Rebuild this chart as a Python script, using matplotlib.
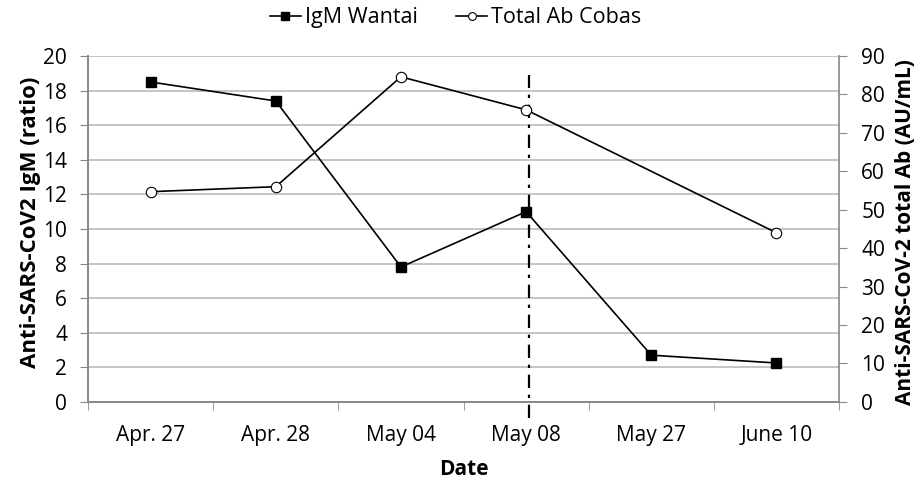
import numpy as np
import matplotlib.pyplot as plt

# datos
dates = ['Apr. 27', 'Apr. 28', 'May 04', 'May 08', 'May 27', 'June 10']
igm_wantai = [18.5, 17.4, 7.8, 11.0, 2.7, 2.25]
total_ab = [54.7, 56.0, 84.6, 76.0, np.nan, 44.0]
cutoff_day = 3.02
cutoff_range = (-0.93, 18.9)

plt.rcParams['font.family'] = ['Open Sans', 'DejaVu Sans']
grey = '#888888'

fig = plt.figure(figsize=(9.17, 4.79), dpi=100, facecolor='white')
ax = fig.add_axes([0.096, 0.161, 0.819, 0.722])
ax2 = ax.twinx()

x = np.arange(len(dates))
ax.plot(x, igm_wantai, color='black', lw=1.2, marker='s', ms=7.5,
        mfc='black', mec='black', label='IgM Wantai', zorder=3)
ab = np.array(total_ab)
ok = ~np.isnan(ab)
ax2.plot(x[ok], ab[ok], color='black', lw=1.2, marker='o', ms=7.5,
         mfc='white', mec='black', mew=0.8, label='Total Ab Cobas', zorder=3)

ax.vlines(cutoff_day, *cutoff_range, colors='black', linestyles=(0, (6, 3, 1.5, 3)),
          lw=1.6, zorder=2, clip_on=False)

ax.set_xlim(-0.5, len(dates) - 0.5)
ax.set_ylim(0, 20)
ax.set_yticks(np.arange(0, 21, 2))
ax2.set_ylim(0, 90)
ax2.set_yticks(np.arange(0, 91, 10))
ax.set_xticks(x)
ax.set_xticklabels(dates)
ax.set_xticks(np.arange(-0.5, len(dates), 1), minor=True)
ax.tick_params(axis='x', which='major', length=0, pad=17, labelsize=15)
ax.tick_params(axis='x', which='minor', length=6, color=grey, direction='out')
ax.tick_params(axis='y', length=6, color=grey, labelsize=15, pad=9)
ax2.tick_params(axis='y', length=6, color=grey, labelsize=15, pad=10)

ax.grid(axis='y', color='#bbbbbb', lw=1.2)
ax.set_axisbelow(True)
for a in (ax, ax2):
    a.spines['top'].set_visible(False)
    for s in ('left', 'right', 'bottom'):
        a.spines[s].set_color(grey)
        a.spines[s].set_linewidth(1.2)
ax.spines['right'].set_visible(False)

ax.set_xlabel('Date', fontsize=15, fontweight='bold')
ax.set_ylabel('Anti-SARS-CoV2 IgM (ratio)', fontsize=16, fontweight='bold')
ax2.set_ylabel('Anti-SARS-CoV-2 total Ab (AU/mL)', fontsize=15, fontweight='bold')
ax.xaxis.set_label_coords(0.5, -0.165)
ax.yaxis.set_label_coords(-0.062, 0.52)
ax2.yaxis.set_label_coords(1.075, 0.49)

h1, l1 = ax.get_legend_handles_labels()
h2, l2 = ax2.get_legend_handles_labels()
fig.legend(h1 + h2, l1 + l2, loc='upper center', bbox_to_anchor=(0.497, 1.025), ncol=2,
           frameon=False, fontsize=15.5, handlelength=1.4, handletextpad=0.2, columnspacing=1.8,
           markerscale=0.75)

plt.savefig('out.png', dpi=100, facecolor='white')
